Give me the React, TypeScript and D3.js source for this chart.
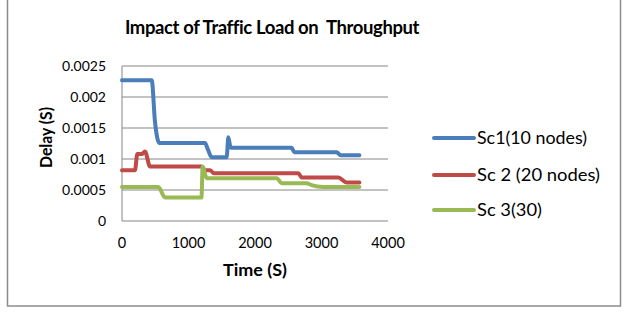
import React from "react";
import * as d3 from "d3";

// Time (s) and delay (s) for each scenario, step-wise traces
const sc1Time = [0, 447, 496, 561, 1248, 1293, 1348, 1574, 1599, 1634, 2551, 2591, 3228, 3289, 3570];
const sc1Delay = [0.00227, 0.00227, 0.0016, 0.00126, 0.00126, 0.00115, 0.00103, 0.00103, 0.00135, 0.00118, 0.00118, 0.00111, 0.00111, 0.00106, 0.00106];

const sc2Time = [0, 195, 230, 296, 346, 421, 1198, 1250, 1323, 1383, 2651, 2702, 3253, 3378, 3570];
const sc2Delay = [0.00082, 0.00082, 0.00108, 0.00108, 0.00112, 0.00088, 0.00088, 0.00082, 0.00082, 0.00077, 0.00077, 0.0007, 0.0007, 0.00062, 0.00062];

const sc3Time = [0, 546, 647, 1195, 1213, 1273, 2326, 2401, 2777, 2850, 3023, 3570];
const sc3Delay = [0.00055, 0.00055, 0.00038, 0.00038, 0.00088, 0.00069, 0.00069, 0.00061, 0.00061, 0.00058, 0.00055, 0.00055];

const seriesNames = ["Sc1(10 nodes)", "Sc 2 (20 nodes)", "Sc 3(30)"];
const seriesColors = ["#4a7ebb", "#be4b48", "#98b954"];

const xTicks = [0, 1000, 2000, 3000, 4000];
const yTicks = [0, 0.0005, 0.001, 0.0015, 0.002, 0.0025];
const yTickLabels = ["0", "0.0005", "0.001", "0.0015", "0.002", "0.0025"];

const FONT = "Lato, 'Open Sans', sans-serif";

export default function App() {
  const W = 628;
  const H = 312;
  const x = d3.scaleLinear().domain([0, 4000]).range([122, 388]);
  const y = d3.scaleLinear().domain([0, 0.0025]).range([221, 66]);

  const series = [
    sc1Time.map((t, i) => [t, sc1Delay[i]] as [number, number]),
    sc2Time.map((t, i) => [t, sc2Delay[i]] as [number, number]),
    sc3Time.map((t, i) => [t, sc3Delay[i]] as [number, number]),
  ];

  const line = d3
    .line<[number, number]>()
    .x((d) => x(d[0]))
    .y((d) => y(d[1]))
    .curve(d3.curveMonotoneX);

  const legendY = [138, 175, 210];
  const legendWidths = [110, 123, 65];

  return (
    <svg
      width={W}
      height={H}
      style={{ position: "absolute", left: 0, top: 0, background: "#fff" }}
      fontFamily={FONT}
    >
      <rect x={0} y={0} width={W} height={H} fill="#fff" />
      {/* chart frame */}
      <rect x={7.5} y={-2} width={613} height={308} fill="none" stroke="#8c8c8c" strokeWidth={1.5} />

      <text
        x={272}
        y={34}
        textAnchor="middle"
        fontSize={18.5}
        fontWeight="bold"
        letterSpacing={-0.4}
        fill="#000"
      >
        Impact of Traffic Load on{"\u00a0\u00a0"}Throughput
      </text>

      {/* gridlines */}
      {yTicks.map((t) => (
        <line key={t} x1={x(0)} x2={x(4000)} y1={y(t)} y2={y(t)} stroke="#868686" strokeWidth={1} />
      ))}
      <line x1={x(0)} x2={x(0)} y1={y(0.0025)} y2={y(0)} stroke="#868686" strokeWidth={1} />

      {yTicks.map((t, i) => (
        <text key={t} x={106} y={y(t) + 5} textAnchor="end" fontSize={14} fill="#000">
          {yTickLabels[i]}
        </text>
      ))}
      {xTicks.map((t) => (
        <text key={t} x={x(t)} y={248} textAnchor="middle" fontSize={14.5} fill="#000">
          {t}
        </text>
      ))}

      <text
        x={223}
        y={276}
        fontSize={17}
        fontWeight="bold"
        fill="#000"
        textLength={64}
        lengthAdjust="spacingAndGlyphs"
      >
        Time (S)
      </text>
      <text
        transform="translate(52,168) rotate(-90)"
        fontSize={17}
        fontWeight="bold"
        fill="#000"
        textLength={61}
        lengthAdjust="spacingAndGlyphs"
      >
        Delay (S)
      </text>

      {series.map((s, i) => (
        <path
          key={i}
          d={line(s) ?? ""}
          fill="none"
          stroke={seriesColors[i]}
          strokeWidth={4}
          strokeLinejoin="round"
          strokeLinecap="round"
        />
      ))}

      {seriesNames.map((n, i) => (
        <g key={n}>
          <line x1={434} x2={474} y1={legendY[i]} y2={legendY[i]} stroke={seriesColors[i]} strokeWidth={4} strokeLinecap="round" />
          <text
            x={477}
            y={legendY[i] + 6}
            fontSize={17.5}
            fill="#000"
            textLength={legendWidths[i]}
            lengthAdjust="spacingAndGlyphs"
          >
            {n}
          </text>
        </g>
      ))}
    </svg>
  );
}
